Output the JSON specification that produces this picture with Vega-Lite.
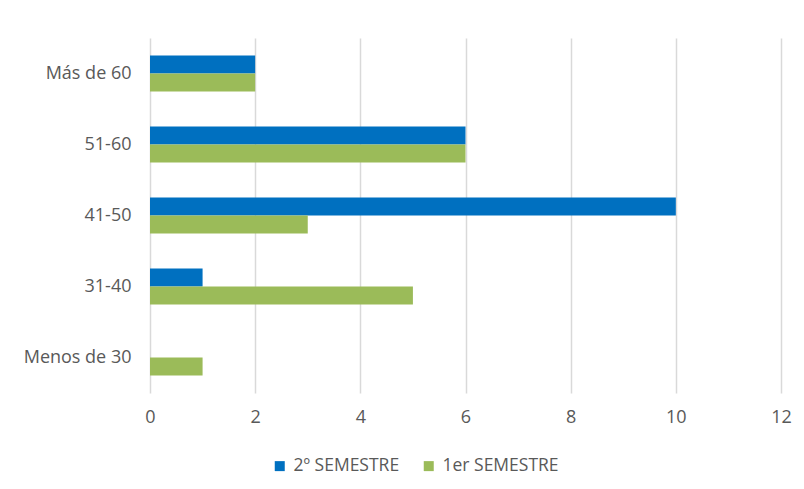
{
  "$schema": "https://vega.github.io/schema/vega-lite/v6.json",
  "width": 631,
  "height": 355,
  "autosize": "none",
  "padding": {"left": 150, "top": 38, "right": 23, "bottom": 96},
  "background": "white",
  "config": {
    "view": {"stroke": null},
    "font": "Open Sans"
  },
  "data": {
    "values": [
      {"edad": "Más de 60", "semestre": "2º SEMESTRE", "valor": 2},
      {"edad": "Más de 60", "semestre": "1er SEMESTRE", "valor": 2},
      {"edad": "51-60", "semestre": "2º SEMESTRE", "valor": 6},
      {"edad": "51-60", "semestre": "1er SEMESTRE", "valor": 6},
      {"edad": "41-50", "semestre": "2º SEMESTRE", "valor": 10},
      {"edad": "41-50", "semestre": "1er SEMESTRE", "valor": 3},
      {"edad": "31-40", "semestre": "2º SEMESTRE", "valor": 1},
      {"edad": "31-40", "semestre": "1er SEMESTRE", "valor": 5},
      {"edad": "Menos de 30", "semestre": "2º SEMESTRE", "valor": 0},
      {"edad": "Menos de 30", "semestre": "1er SEMESTRE", "valor": 1}
    ]
  },
  "mark": {"type": "bar"},
  "encoding": {
    "y": {
      "field": "edad",
      "type": "nominal",
      "sort": ["Más de 60", "51-60", "41-50", "31-40", "Menos de 30"],
      "scale": {"paddingInner": 0.49, "paddingOuter": 0.245},
      "axis": {"title": null, "ticks": false, "domain": false, "labelPadding": 19, "grid": false,
               "labelFont": "Open Sans", "labelFontSize": 18, "labelColor": "#595959"}
    },
    "yOffset": {
      "field": "semestre",
      "type": "nominal",
      "sort": ["2º SEMESTRE", "1er SEMESTRE"],
      "scale": {"paddingInner": 0, "paddingOuter": 0}
    },
    "x": {
      "field": "valor",
      "type": "quantitative",
      "scale": {"domain": [0, 12], "nice": false},
      "axis": {
        "title": null,
        "values": [0, 2, 4, 6, 8, 10, 12],
        "ticks": false,
        "domain": false,
        "grid": true,
        "gridColor": "#d9d9d9",
        "gridWidth": 1.5,
        "labelPadding": 15,
        "labelFlush": false,
        "labelFont": "Open Sans",
        "labelFontSize": 18,
        "labelColor": "#595959"
      }
    },
    "color": {
      "field": "semestre",
      "type": "nominal",
      "scale": {"domain": ["2º SEMESTRE", "1er SEMESTRE"], "range": ["#0070C0", "#9BBB59"]},
      "legend": {
        "title": null,
        "orient": "none",
        "direction": "horizontal",
        "legendX": 121,
        "legendY": 419,
        "symbolType": "square",
        "symbolSize": 100,
        "symbolStrokeWidth": 0,
        "labelOffset": 5,
        "columnPadding": 20,
        "labelFont": "Open Sans",
        "labelFontSize": 17.5,
        "labelColor": "#595959"
      }
    }
  }
}
